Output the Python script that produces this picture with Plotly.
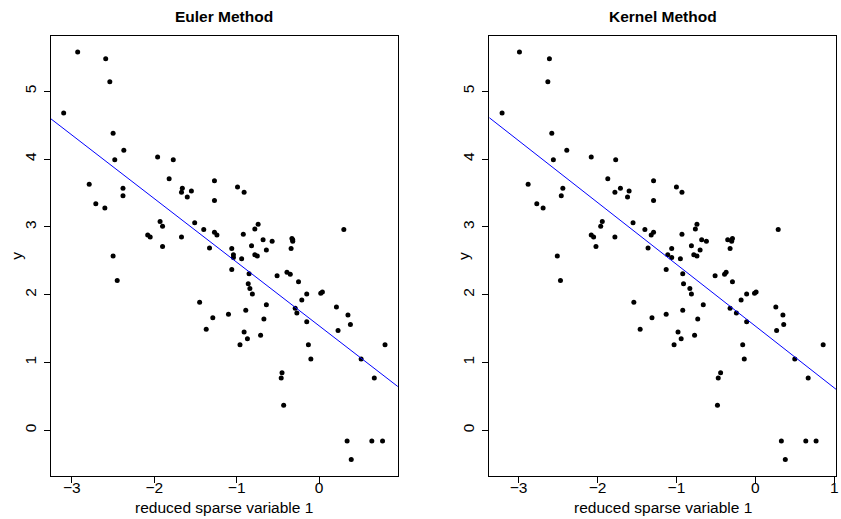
import plotly.graph_objects as go

# ---- data ----
y_vals = [5.58, 5.48, 5.14, 4.68, 4.38, 4.13, 3.99, 4.03, 3.99, 3.63, 3.71, 3.57, 3.46, 3.57, 3.51,
          3.53, 3.44, 3.68, 3.39, 3.34, 3.28, 3.08, 3.01, 3.06, 2.96, 2.92, 2.88, 2.88, 2.85, 2.85,
          2.71, 2.69, 2.57, 3.59, 3.51, 2.96, 3.04, 2.97, 2.89, 2.81, 2.79, 2.83, 2.81, 2.79, 2.68,
          2.72, 2.66, 2.68, 2.59, 2.57, 2.59, 2.55, 2.53, 2.37, 2.31, 2.28, 2.33, 2.30, 2.16, 2.09,
          2.01, 2.19, 2.01, 1.92, 2.02, 2.04, 1.71, 1.77, 1.85, 1.64, 1.80, 1.73, 1.60, 1.82, 1.70,
          1.56, 1.47, 1.45, 1.35, 1.26, 1.40, 1.26, 1.05, 1.26, 1.05, 0.77, 0.85, 0.77, 0.37, -0.16,
          -0.16, -0.16, -0.43, 2.21, 1.89, 1.66, 1.49]

x_euler = [-2.93, -2.59, -2.54, -3.10, -2.50, -2.37, -2.48, -1.96, -1.77, -2.79, -1.82, -2.38, -2.38,
           -1.66, -1.67, -1.55, -1.60, -1.27, -1.27, -2.71, -2.60, -1.93, -1.90, -1.51, -1.40, -1.27,
           -1.24, -2.08, -2.05, -1.67, -1.90, -1.33, -2.50, -0.99, -0.91, 0.30, -0.74, -0.78, -0.92,
           -0.68, -0.57, -0.33, -0.32, -0.32, -0.34, -0.82, -0.64, -1.06, -0.78, -0.75, -1.04, -1.04,
           -0.94, -1.06, -0.85, -0.51, -0.39, -0.35, -0.86, -0.84, -0.81, -0.25, -0.15, -0.21, 0.02,
           0.04, -1.10, -0.89, -0.64, -0.67, -0.29, -0.27, -0.15, 0.21, 0.35, 0.38, 0.23, -0.91, -0.87,
           -0.96, -0.71, -0.13, -0.10, 0.80, 0.51, 0.67, -0.45, -0.46, -0.43, 0.34, 0.64, 0.77, 0.39,
           -2.45, -1.45, -1.29, -1.37]

x_kernel = [-2.99, -2.61, -2.63, -3.21, -2.58, -2.39, -2.56, -2.08, -1.77, -2.88, -1.87, -2.44, -2.46,
            -1.71, -1.78, -1.60, -1.62, -1.29, -1.29, -2.77, -2.69, -1.94, -1.96, -1.55, -1.40, -1.29,
            -1.32, -2.08, -2.05, -1.78, -2.02, -1.36, -2.51, -1.00, -0.93, 0.29, -0.74, -0.76, -0.93,
            -0.68, -0.62, -0.29, -0.35, -0.30, -0.32, -0.81, -0.70, -1.06, -0.78, -0.74, -1.11, -1.06,
            -0.95, -1.13, -0.92, -0.51, -0.37, -0.39, -0.91, -0.83, -0.81, -0.29, -0.11, -0.18, -0.01,
            0.01, -1.13, -0.92, -0.66, -0.73, -0.32, -0.24, -0.11, 0.26, 0.35, 0.36, 0.27, -0.98, -0.94,
            -1.03, -0.77, -0.16, -0.14, 0.86, 0.50, 0.67, -0.44, -0.47, -0.48, 0.33, 0.64, 0.77, 0.38,
            -2.47, -1.54, -1.31, -1.46]

panel_titles = ["Euler Method", "Kernel Method"]
fit_intercepts = [1.541, 1.537]
fit_slopes = [-0.938, -0.9115]
x_ticks = [[-3, -2, -1, 0], [-3, -2, -1, 0, 1]]
y_ticks = [0, 1, 2, 3, 4, 5]
x_label = "reduced sparse variable 1"
y_label = "y"


def r_range(v):
    lo, hi = min(v), max(v)
    d = (hi - lo) * 0.04
    return [lo - d, hi + d]


W, H = 841, 519
FONT = "Liberation Sans, Arial, Helvetica, sans-serif"
FS = 15.5

x_domains = [[51 / W, 399.3 / W], [491 / W, 839 / W]]
y_domain = [1 - 475.7 / H, 1 - 35.7 / H]

fig = go.Figure()
yr = r_range(y_vals)
annotations = []
for i, xs in enumerate([x_euler, x_kernel]):
    xa = "x" if i == 0 else "x2"
    ya = "y" if i == 0 else "y2"
    xr = r_range(xs)
    fig.add_trace(go.Scatter(x=xs, y=y_vals, mode="markers", xaxis=xa, yaxis=ya,
                             marker=dict(color="black", size=5), showlegend=False))
    lx = xr
    ly = [fit_intercepts[i] + fit_slopes[i] * v for v in lx]
    fig.add_trace(go.Scatter(x=lx, y=ly, mode="lines", xaxis=xa, yaxis=ya,
                             line=dict(color="#0000ff", width=1), showlegend=False))
    axis_common = dict(showgrid=False, zeroline=False, showline=True, linecolor="black",
                       linewidth=1, mirror=True, ticks="outside", ticklen=6, tickcolor="black",
                       ticklabeloverflow="allow",
                       tickfont=dict(family=FONT, size=FS, color="black"))
    xkey = "xaxis" if i == 0 else "xaxis2"
    ykey = "yaxis" if i == 0 else "yaxis2"
    fig.update_layout(**{
        xkey: dict(domain=x_domains[i], range=xr, tickvals=x_ticks[i], anchor=ya,
                   ticklabelstandoff=-8, **axis_common),
        ykey: dict(domain=y_domain, range=yr, tickvals=y_ticks, anchor=xa, tickangle=-90,
                   ticklabelstandoff=2, **axis_common),
    })
    cx = (x_domains[i][0] + x_domains[i][1]) / 2
    annotations.append(dict(text="<b>" + panel_titles[i] + "</b>", x=cx, y=1 - 17 / H,
                            xref="paper", yref="paper", showarrow=False,
                            xanchor="center", yanchor="middle",
                            font=dict(family=FONT, size=FS, color="black")))
    annotations.append(dict(text=x_label, x=cx, y=1 - 507 / H, xref="paper", yref="paper",
                            showarrow=False, xanchor="center", yanchor="middle",
                            font=dict(family=FONT, size=FS, color="black")))
    ylx = [17 / W, 465 / W][i]
    annotations.append(dict(text=y_label, x=ylx, y=(y_domain[0] + y_domain[1]) / 2,
                            xref="paper", yref="paper", showarrow=False, textangle=-90,
                            xanchor="center", yanchor="middle",
                            font=dict(family=FONT, size=FS, color="black")))

fig.update_layout(width=W, height=H, margin=dict(l=0, r=0, t=0, b=0),
                  paper_bgcolor="white", plot_bgcolor="white",
                  annotations=annotations, showlegend=False)

fig.write_html("out.html")
